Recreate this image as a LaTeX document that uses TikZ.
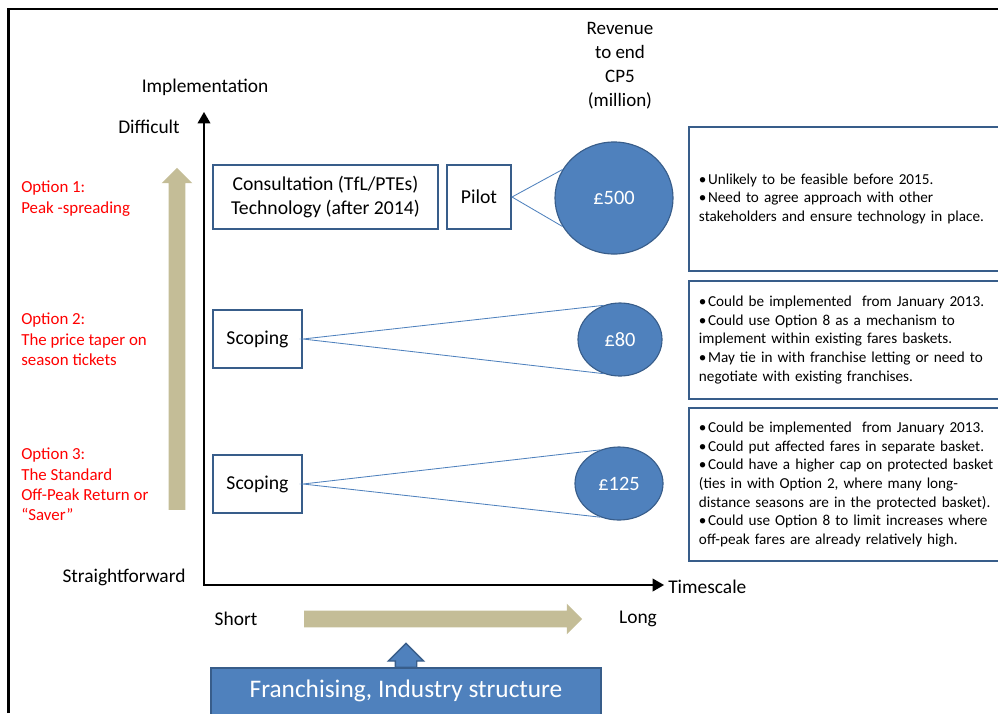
\documentclass[tikz,border=0pt]{standalone}
\usepackage{fontspec}
\setmainfont{Carlito}
\usepackage{tikz}
\usepackage{xcolor}
\usetikzlibrary{arrows,calc,shapes.geometric,shapes.arrows}
\definecolor{tanfill}{HTML}{C4BD97}
\definecolor{blueacc}{HTML}{4F81BD}
\definecolor{blueedge}{HTML}{385D8A}
\definecolor{optred}{HTML}{FF0000}
\newcommand\remarkfont{\fontsize{10.8}{13.3}\selectfont\spaceskip=0.2em plus 0.1em\relax}
\newcommand\bul{•\hspace{0.1em}}
\tikzset{every scope/.style={>=triangle 60}}
\tikzstyle{stage} =
  [ rectangle
  , draw=blueedge
  , line width=1.4pt
  , fill=white
  , align=center
  , inner sep=0pt
  , font=\fontsize{14}{16.5}\selectfont
  ]
\tikzstyle{revenue} =
  [ ellipse
  , fill=blueacc
  , draw=blueedge
  , line width=0.8pt
  , text=white
  , inner sep=0pt
  , font=\fontsize{14.5}{17}\selectfont
  ]
\tikzstyle{remark} =
  [ rectangle
  , draw=blueedge
  , line width=1.4pt
  , anchor=north west
  , align=left
  , inner xsep=0.25cm
  , text width=9cm
  , font=\remarkfont
  ]
\tikzstyle{option} =
  [ text=optred
  , align=left
  , anchor=west
  , inner sep=0pt
  , font=\fontsize{12}{14.5}\selectfont
  ]
\tikzstyle{axislabel} =
  [ inner sep=0pt
  , align=center
  , font=\fontsize{13.8}{17}\selectfont
  ]
\tikzstyle{fan} =
  [ draw=blueacc
  , line width=0.6pt
  ]
\tikzstyle{tanarrow} =
  [ single arrow
  , fill=tanfill
  , inner xsep=0pt
  , inner ysep=0.2cm
  , single arrow head extend=0.175cm
  , single arrow head indent=0pt
  ]

\begin{document}
\begin{tikzpicture}[x=0.025cm,y=-0.025cm]
    \useasboundingbox (0,0) rectangle (998,713);
    \draw[line width=2.1pt] (8.5,713) -- (8.5,9) -- (998,9);

    % Axes
    \coordinate (origin) at (204,585);
    \coordinate (ytip)   at (204,112);
    \coordinate (xtip)   at (664,585);
    \draw[<->, line width=1.2pt] (ytip) -- (origin) -- (xtip);
    \node[axislabel]             (impl)      at (205,87)  {Implementation};
    \node[axislabel]             (difficult) at (149,127) {Difficult};
    \node[axislabel]             (straight)  at (124,577) {Straightforward};
    \node[axislabel,anchor=west] (timescale) at ($(xtip)+(4,2)$) {Timescale};
    \node[axislabel, font=\fontsize{13.5}{17}\selectfont] (revtitle) at (620,66) {Revenue\\to end\\CP5\\(million)};

    % Tan arrows
    \node[tanarrow, rotate=90, minimum height=8.55cm] (difficulty) at (177,343) {};
    \node[tanarrow, minimum height=6.95cm]            (duration)   at (439,619) {};
    \node[axislabel] (short) at (236,619) {Short};
    \node[axislabel] (long)  at (638,619) {Long};

    % Options
    \node[option] (opt1) at (21,198.5) {Option 1:\\Peak -spreading};
    \node[option] (opt2) at (21,339.5) {Option 2:\\The price taper on\\season tickets};
    \node[option] (opt3) at (21,484.5) {Option 3:\\The Standard\\Off-Peak Return or\\“Saver”};

    % Option 1 row
    \node[stage, minimum width=5.625cm, minimum height=1.6cm] (consult) at (325.5,197) {Consultation (TfL/PTEs)\\Technology (after 2014)};
    \node[stage, minimum width=1.6cm, minimum height=1.6cm]   (pilot)   at (479,197)   {Pilot};
    \node[revenue, minimum width=2.95cm, minimum height=2.8cm] (rev500) at (614,198)   {£500};
    \draw[fan] (rev500.151) -- (pilot.east) -- (rev500.209);

    % Option 2 row
    \node[stage, minimum width=2.225cm, minimum height=1.45cm] (scope2) at (257.5,339) {Scoping};
    \node[revenue, minimum width=2.1cm, minimum height=1.825cm] (rev80) at (620,339.5)  {£80};
    \draw[fan] (rev80.116) -- (scope2.east) -- (rev80.244);

    % Option 3 row
    \node[stage, minimum width=2.225cm, minimum height=1.45cm] (scope3) at (257.5,484) {Scoping};
    \node[revenue, minimum width=2.2cm, minimum height=1.825cm] (rev125) at (619,483.5) {£125};
    \draw[fan] (rev125.119) -- (scope3.east) -- (rev125.241);

    % Remarks
    \node[remark, minimum height=3.6cm]   (note1) at (688,126) {\bul Unlikely to be feasible before 2015.\\\bul Need to agree approach with other\\stakeholders and ensure technology in place.};
    \node[remark, minimum height=2.95cm]  (note2) at (688,280) {\bul Could be implemented\ \ from January 2013.\\\bul Could use Option 8 as a mechanism to\\implement within existing fares baskets.\\\bul May tie in with franchise letting or need to\\negotiate with existing franchises.};
    \node[remark, minimum height=3.825cm] (note3) at (688,407) {\bul Could be implemented\ \ from January 2013.\\\bul Could put affected fares in separate basket.\\\bul Could have a higher cap on protected basket\\(ties in with Option 2, where many long-\\distance seasons are in the protected basket).\\\bul Could use Option 8 to limit increases where\\off-peak fares are already relatively high.};

    % Franchising
    \node[single arrow, rotate=90, fill=blueacc, draw=blueedge, line width=1pt,
          minimum height=0.6cm, inner xsep=0pt, inner ysep=0.25cm,
          single arrow head extend=0.175cm, single arrow head indent=0pt,
          anchor=tail] (push) at (406,668) {};
    \node[rectangle, fill=blueacc, draw=blueedge, line width=1.2pt, text=white,
          minimum width=9.75cm, minimum height=1.5cm, anchor=north,
          text depth=0.45cm, font=\fontsize{18}{21}\selectfont] (franchise) at (406,667) {Franchising, Industry structure};
\end{tikzpicture}
\end{document}
